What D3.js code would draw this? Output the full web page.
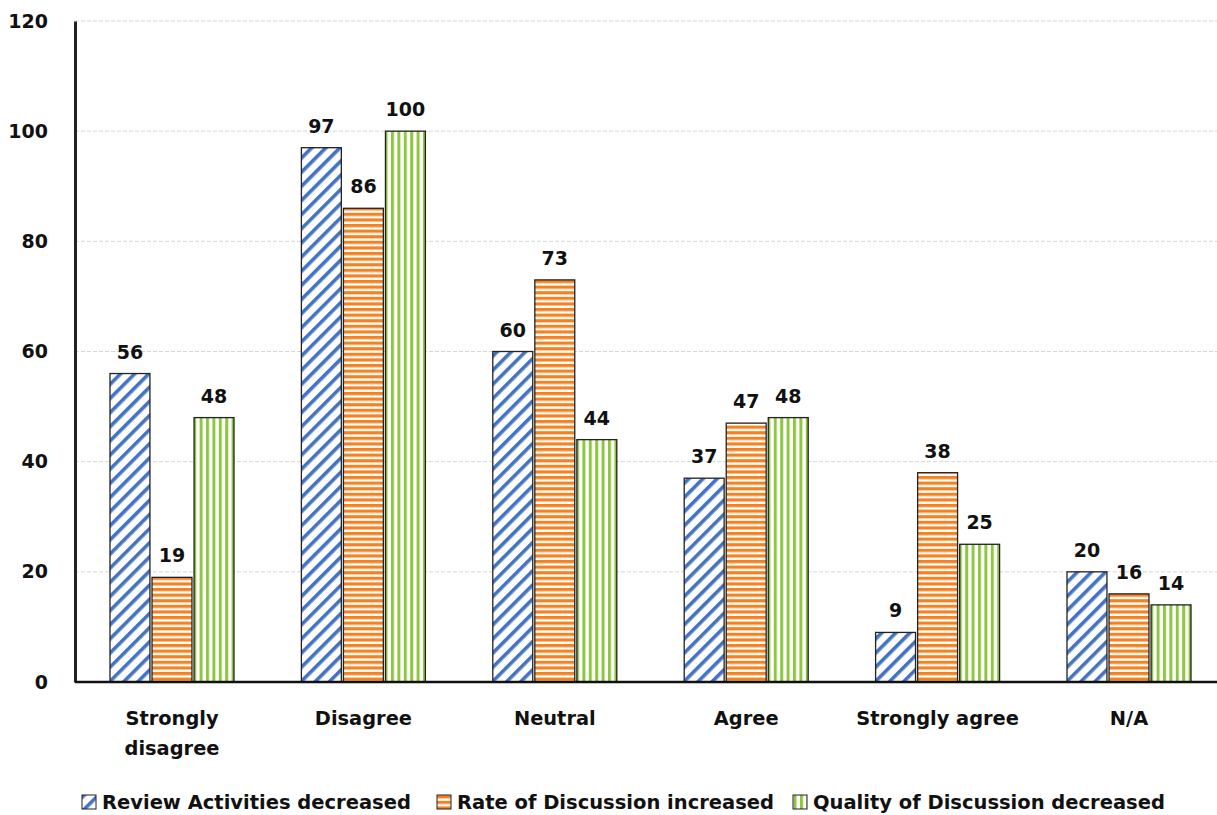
<!DOCTYPE html>
<html>
<head>
<meta charset="utf-8">
<script src="https://cdn.jsdelivr.net/npm/d3@7"></script>
<style>
  html, body { margin: 0; padding: 0; background: #fff; }
  svg { display: block; font-family: "DejaVu Sans", Verdana, sans-serif; }
</style>
</head>
<body>
<svg id="chart" width="1217" height="815"></svg>
<script>
// Survey responses per answer category
const categories = [["Strongly", "disagree"], ["Disagree"], ["Neutral"], ["Agree"], ["Strongly agree"], ["N/A"]];
const seriesNames = ["Review Activities decreased", "Rate of Discussion increased", "Quality of Discussion decreased"];
const reviewActivities = [56, 97, 60, 37, 9, 20];
const rateOfDiscussion = [19, 86, 73, 47, 38, 16];
const qualityOfDiscussion = [48, 100, 44, 48, 25, 14];
const yTicks = [0, 20, 40, 60, 80, 100, 120];

const seriesValues = [reviewActivities, rateOfDiscussion, qualityOfDiscussion];
const svg = d3.select("#chart");
const W = 1217, H = 815;
const axisX = 75, plotTop = 21, plotBottom = 682;
const groupWidth = 124;

const x0 = d3.scaleBand().domain(d3.range(categories.length)).range([76.3, 76.3 + 6 * 191.4]);
const x1 = d3.scaleBand().domain(d3.range(3)).range([0, groupWidth]).paddingInner(0.05);
const y = d3.scaleLinear().domain([0, 120]).range([plotBottom, plotTop]);

// Fill patterns: diagonal hatch, horizontal stripes, vertical stripes
const defs = svg.append("defs");
const pBlue = defs.append("pattern").attr("id", "pBlue").attr("patternUnits", "userSpaceOnUse")
  .attr("width", 10).attr("height", 10).attr("patternTransform", "rotate(45)");
pBlue.append("rect").attr("width", 10).attr("height", 10).attr("fill", "#fff");
pBlue.append("rect").attr("x", 0).attr("width", 3.6).attr("height", 10).attr("fill", "#4472c4");

const pOrange = defs.append("pattern").attr("id", "pOrange").attr("patternUnits", "userSpaceOnUse")
  .attr("width", 10).attr("height", 5.6);
pOrange.append("rect").attr("width", 10).attr("height", 5.6).attr("fill", "#fff");
pOrange.append("rect").attr("y", 0).attr("width", 10).attr("height", 3.2).attr("fill", "#f58220");

const pGreen = defs.append("pattern").attr("id", "pGreen").attr("patternUnits", "userSpaceOnUse")
  .attr("width", 6.4).attr("height", 10);
pGreen.append("rect").attr("width", 6.4).attr("height", 10).attr("fill", "#fff");
pGreen.append("rect").attr("x", 0).attr("width", 3).attr("height", 10).attr("fill", "#8dc63f");

const fills = ["url(#pBlue)", "url(#pOrange)", "url(#pGreen)"];

// Gridlines
svg.append("g").selectAll("line").data(yTicks.filter(t => t > 0)).join("line")
  .attr("x1", axisX).attr("x2", W)
  .attr("y1", d => y(d)).attr("y2", d => y(d))
  .attr("stroke", "#d6d6d6").attr("stroke-width", 1).attr("stroke-dasharray", "4,2");

// Y axis
const yAxis = d3.axisLeft(y).tickValues(yTicks).tickSize(0).tickPadding(27);
const gy = svg.append("g").attr("transform", `translate(${axisX},0)`).call(yAxis);
gy.select(".domain").attr("stroke", "#222").attr("stroke-width", 3);
gy.selectAll("text").attr("font-size", 19).attr("font-weight", "bold").attr("fill", "#111")
  .attr("font-family", "DejaVu Sans, sans-serif");

// Bars
const groups = svg.append("g").selectAll("g").data(categories).join("g")
  .attr("transform", (d, i) => `translate(${x0(i) + (x0.bandwidth() - groupWidth) / 2},0)`);

groups.each(function (cat, ci) {
  const g = d3.select(this);
  seriesValues.forEach((vals, si) => {
    const v = vals[ci];
    g.append("rect")
      .attr("x", x1(si)).attr("width", x1.bandwidth())
      .attr("y", y(v)).attr("height", y(0) - y(v))
      .attr("fill", fills[si]).attr("stroke", "#222").attr("stroke-width", 1.3);
    g.append("text")
      .attr("x", x1(si) + x1.bandwidth() / 2).attr("y", y(v) - 15)
      .attr("text-anchor", "middle").attr("font-size", 19).attr("font-weight", "bold").attr("fill", "#111")
      .text(v);
  });
});

// X baseline
svg.append("line").attr("x1", axisX).attr("x2", W).attr("y1", y(0)).attr("y2", y(0))
  .attr("stroke", "#111").attr("stroke-width", 2.5);

// Category labels
const xl = svg.append("g");
categories.forEach((lines, i) => {
  const t = xl.append("text").attr("text-anchor", "middle").attr("font-size", 19.4).attr("font-weight", "bold").attr("fill", "#111");
  lines.forEach((ln, k) => {
    t.append("tspan").attr("x", x0(i) + x0.bandwidth() / 2).attr("y", y(0) + 43 + k * 30).text(ln);
  });
});

// Legend
const legendX = [82, 437, 793];
const lg = svg.append("g");
seriesNames.forEach((name, i) => {
  lg.append("rect").attr("x", legendX[i]).attr("y", 795).attr("width", 14).attr("height", 14)
    .attr("fill", fills[i]).attr("stroke", "#222").attr("stroke-width", 1);
  lg.append("text").attr("x", legendX[i] + 20).attr("y", 809)
    .attr("font-size", 19.5).attr("font-weight", "bold").attr("fill", "#111").text(name);
});
</script>
</body>
</html>
